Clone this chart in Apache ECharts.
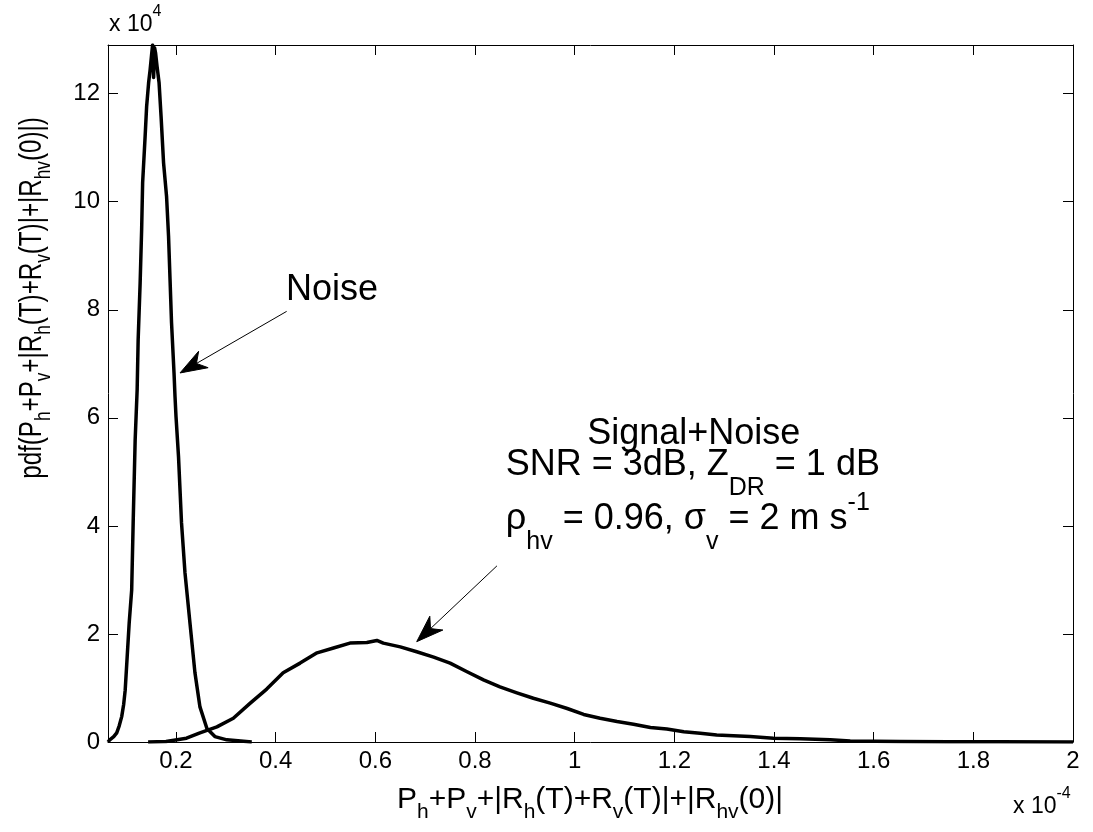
<!DOCTYPE html>
<html>
<head>
<meta charset="utf-8">
<script src="https://cdn.jsdelivr.net/npm/echarts@6/dist/echarts.min.js"></script>
<style>
  html, body { margin: 0; padding: 0; background: #fff; }
  #chart { width: 1093px; height: 832px; }
</style>
</head>
<body>
<div id="chart"></div>
<script>
// x in units of 1e-4, pdf in units of 1e4
const noiseX = [0.0635, 0.067, 0.075, 0.081, 0.086, 0.091, 0.095, 0.098, 0.102, 0.106,
  0.111, 0.114, 0.118, 0.122, 0.124, 0.128, 0.131, 0.133, 0.138, 0.141,
  0.145, 0.148, 0.151, 0.153, 0.155, 0.157, 0.159, 0.162, 0.164, 0.166,
  0.170, 0.175, 0.181, 0.185, 0.188, 0.191, 0.196, 0.198, 0.200, 0.205,
  0.211, 0.218, 0.228, 0.238, 0.248, 0.262, 0.278, 0.302, 0.330, 0.352];
const noiseY = [0, 0.04, 0.10, 0.17, 0.30, 0.47, 0.70, 0.96, 1.58, 2.20,
  2.81, 4.06, 5.59, 6.52, 7.44, 8.50, 9.48, 10.35, 11.21, 11.76,
  12.20, 12.44, 12.72, 12.90, 12.30, 12.85, 12.75, 12.50, 12.35, 12.20,
  11.58, 10.72, 10.10, 9.36, 8.56, 7.76, 6.83, 6.39, 6.02, 5.28,
  4.06, 3.13, 2.20, 1.28, 0.65, 0.25, 0.10, 0.04, 0.02, 0];

const signalX = [0.144, 0.18, 0.221, 0.248, 0.282, 0.315, 0.349, 0.382, 0.415, 0.449,
  0.483, 0.516, 0.549, 0.583, 0.603, 0.616, 0.650, 0.683, 0.717, 0.750,
  0.784, 0.817, 0.850, 0.884, 0.917, 0.951, 0.985, 1.018, 1.051, 1.085,
  1.118, 1.152, 1.185, 1.219, 1.252, 1.285, 1.352, 1.399, 1.453, 1.513,
  1.553, 1.654, 1.75, 1.85, 2.0];
const signalY = [0, 0.01, 0.07, 0.17, 0.28, 0.44, 0.72, 0.98, 1.28, 1.46,
  1.65, 1.74, 1.83, 1.84, 1.88, 1.83, 1.76, 1.67, 1.57, 1.46,
  1.30, 1.15, 1.02, 0.91, 0.81, 0.72, 0.62, 0.51, 0.44, 0.38,
  0.33, 0.27, 0.24, 0.19, 0.16, 0.13, 0.10, 0.07, 0.06, 0.04,
  0.02, 0.01, 0.005, 0.003, 0.001];

const xTicks = [0.2, 0.4, 0.6, 0.8, 1, 1.2, 1.4, 1.6, 1.8, 2];
const yTicks = [0, 2, 4, 6, 8, 10, 12];
const xRange = [0.0635, 2];
const yRange = [0, 12.9];

// annotation anchors in data units
const noiseLabelAt = [0.513, 8.37];
const noiseArrow = { from: [0.422, 7.97], to: [0.208, 6.83] };
const signalLabelAt = [[1.239, 5.70], [1.237, 5.13], [1.227, 4.13]];
const signalArrow = { from: [0.844, 3.26], to: [0.683, 1.857] };

const FONT = '"Liberation Sans", Arial, Helvetica, sans-serif';
const pairs = (xs, ys) => xs.map((x, i) => [x, ys[i]]);
const fmt = v => String(Math.round(v * 10) / 10);

const chart = echarts.init(document.getElementById('chart'), null, { renderer: 'canvas' });

const frameLine = { show: true, onZero: false, lineStyle: { color: '#000', width: 1 } };
const tickStyle = { color: '#000', width: 1 };

function xAxisDef(pos, withLabels) {
  return {
    type: 'value', position: pos, min: xRange[0], max: xRange[1],
    axisLine: frameLine,
    axisTick: { show: true, inside: true, length: 10, customValues: xTicks, lineStyle: tickStyle },
    axisLabel: withLabels
      ? { show: true, customValues: xTicks, formatter: fmt, color: '#000', fontSize: 24, fontFamily: FONT, margin: 7 }
      : { show: false },
    splitLine: { show: false }
  };
}
function yAxisDef(pos, withLabels) {
  return {
    type: 'value', position: pos, min: yRange[0], max: yRange[1],
    axisLine: frameLine,
    axisTick: { show: true, inside: true, length: 10, customValues: yTicks, lineStyle: tickStyle },
    axisLabel: withLabels
      ? { show: true, customValues: yTicks, formatter: fmt, color: '#000', fontSize: 24, fontFamily: FONT, margin: 8 }
      : { show: false },
    splitLine: { show: false }
  };
}

chart.setOption({
  animation: false,
  backgroundColor: '#fff',
  grid: { left: 108, right: 20, top: 45, bottom: 90, containLabel: false, outerBoundsMode: 'none' },
  xAxis: [xAxisDef('bottom', true), xAxisDef('top', false)],
  yAxis: [yAxisDef('left', true), yAxisDef('right', false)],
  series: [
    {
      name: 'Noise', type: 'line', xAxisIndex: 0, yAxisIndex: 0,
      data: pairs(noiseX, noiseY), symbol: 'none', silent: true,
      lineStyle: { color: '#000', width: 3.5, join: 'round' }
    },
    {
      name: 'Signal+Noise', type: 'line', xAxisIndex: 0, yAxisIndex: 0,
      data: pairs(signalX, signalY), symbol: 'none', silent: true,
      lineStyle: { color: '#000', width: 3.5, join: 'round' }
    }
  ]
});

const toPx = p => chart.convertToPixel({ xAxisIndex: 0, yAxisIndex: 0 }, p);

function arrowShapes(a) {
  const [x0, y0] = toPx(a.from);
  const [x1, y1] = toPx(a.to);
  const dx = x1 - x0, dy = y1 - y0, L = Math.hypot(dx, dy);
  const ux = dx / L, uy = dy / L, px = -uy, py = ux;
  const hl = 27, hw = 9.5, notch = 8;
  const bx = x1 - ux * hl, by = y1 - uy * hl;
  const nx = x1 - ux * (hl - notch), ny = y1 - uy * (hl - notch);
  return [
    { type: 'polyline', silent: true, shape: { points: [[x0, y0], [nx, ny]] },
      style: { stroke: '#000', lineWidth: 1, fill: null }, z: 10 },
    { type: 'polygon', silent: true,
      shape: { points: [[x1, y1], [bx + px * hw, by + py * hw], [nx, ny], [bx - px * hw, by - py * hw]] },
      style: { fill: '#000', stroke: '#000', lineWidth: 1 }, z: 10 }
  ];
}

function richText(x, y, text, rich, extra) {
  return Object.assign({
    type: 'text', silent: true, x: x, y: y, z: 11,
    style: { text: text, rich: rich, align: 'center', verticalAlign: 'middle',
             fill: '#000', font: '35px ' + FONT }
  }, extra || {});
}

const annRich = {
  n: { fontSize: 36, fontFamily: FONT, color: '#000' },
  sub: { fontSize: 25, fontFamily: FONT, color: '#000', padding: [46, 0, 0, 0] },
  sup: { fontSize: 25, fontFamily: FONT, color: '#000', padding: [0, 0, 32, 0] }
};
const titleRich = {
  n: { fontSize: 30, fontFamily: FONT, color: '#000' },
  sub: { fontSize: 21, fontFamily: FONT, color: '#000', padding: [24, 0, 0, 0] }
};
const expRich = {
  n: { fontSize: 23, fontFamily: FONT, color: '#000' },
  sup: { fontSize: 16, fontFamily: FONT, color: '#000', padding: [0, 0, 26, 0] }
};

const nl = toPx(noiseLabelAt);
const s1 = toPx(signalLabelAt[0]);
const s2 = toPx(signalLabelAt[1]);
const s3 = toPx(signalLabelAt[2]);

const expTop = richText(109, 25, '{n|x 10}{sup|4}', expRich);
const expBottom = richText(1013, 807, '{n|x 10}{sup|-4}', expRich);
expTop.style.align = 'left';
expBottom.style.align = 'left';

chart.setOption({
  graphic: [
    richText(nl[0], nl[1], '{n|Noise}', annRich),
    richText(s1[0], s1[1], '{n|Signal+Noise}', annRich),
    richText(s2[0], s2[1], '{n|SNR = 3dB, Z}{sub|DR}{n| = 1 dB}', annRich),
    richText(s3[0], s3[1], '{n|ρ}{sub|hv}{n| = 0.96, σ}{sub|v}{n| = 2 m s}{sup|-1}', annRich),
    ...arrowShapes(noiseArrow),
    ...arrowShapes(signalArrow),
    // axis titles
    richText(590, 800,
      '{n|P}{sub|h}{n|+P}{sub|v}{n|+|R}{sub|h}{n|(T)+R}{sub|v}{n|(T)|+|R}{sub|hv}{n|(0)|}', titleRich),
    richText(32, 298,
      '{n|pdf(P}{sub|h}{n|+P}{sub|v}{n|+|R}{sub|h}{n|(T)+R}{sub|v}{n|(T)|+|R}{sub|hv}{n|(0)|)}',
      { n: { fontSize: 31, fontFamily: FONT, color: '#000' },
        sub: { fontSize: 22, fontFamily: FONT, color: '#000', padding: [24, 0, 0, 0] } },
      { rotation: Math.PI / 2, scaleX: 0.78, scaleY: 1 }),
    // axis exponents
    expTop,
    expBottom
  ]
});
</script>
</body>
</html>
